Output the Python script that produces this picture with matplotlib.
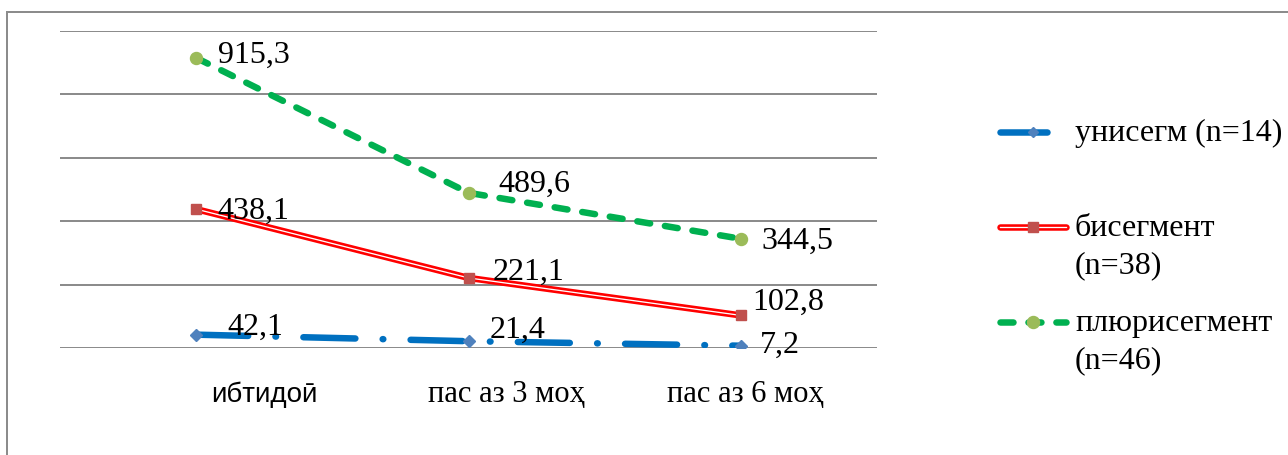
import numpy as np
import matplotlib
matplotlib.use("Agg")
import matplotlib.pyplot as plt
from matplotlib.lines import Line2D
from matplotlib.patches import Rectangle

# data
periods = ["ибтидоӣ", "пас аз 3 моҳ", "пас аз 6 моҳ"]
series_names = ["унисегм (n=14)", "бисегмент\n(n=38)", "плюрисегмент\n(n=46)"]
uni = [42.1, 21.4, 7.2]
bi = [438.1, 221.1, 102.8]
pluri = [915.3, 489.6, 344.5]

serif = ["Liberation Serif", "DejaVu Serif"]
sans = ["Liberation Sans", "DejaVu Sans"]

DPI = 100
PX = 72.0 / DPI  # points per pixel
W, H = 1288, 455

fig = plt.figure(figsize=(W / DPI, H / DPI), dpi=DPI)
ax = fig.add_axes([60 / W, 1 - 348 / H, 817 / W, 317 / H])

x = np.arange(len(periods))
lw = 6.5 * PX

# unisegment: long dash-dot, blue
ax.plot(x, uni, color="#0070C0", lw=lw, linestyle=(0, (8, 4.2, 0.1, 4.2)),
        dash_capstyle="round", solid_capstyle="round",
        marker="D", ms=8 * PX, mfc="#4F81BD", mec="#4F81BD", zorder=3)
# bisegment: red double line
ax.plot(x, bi, color="#FF0000", lw=lw, solid_capstyle="round", zorder=3)
ax.plot(x, bi, color="white", lw=1.3 * PX, zorder=4)
ax.plot(x, bi, linestyle="none", marker="s", ms=10 * PX, mfc="#C0504D",
        mec="#C0504D", zorder=5)
# plurisegment: green dashed
ax.plot(x, pluri, color="#00B050", lw=lw, linestyle=(0, (2, 2.3)),
        dash_capstyle="round", zorder=3)
ax.plot(x, pluri, linestyle="none", marker="o", ms=12 * PX, mfc="#9BBB59",
        mec="#9BBB59", zorder=5)

# value labels (offsets in pixels)
label_offsets = {
    0: [(31, 7), (21, 11), (19, 0)],
    1: [(21, -2), (24, 6), (11, 13)],
    2: [(22, 3), (30, 8), (21, -3)],
}
for k, vals in enumerate([uni, bi, pluri]):
    for i, v in enumerate(vals):
        ax.annotate(f"{v:.1f}".replace(".", ","), (x[i], v),
                    xytext=label_offsets[k][i], textcoords="offset pixels",
                    ha="left", va="center", fontsize=23, family=serif,
                    color="black", zorder=6)

ax.set_xlim(-0.5, 2.5)
ax.set_ylim(0, 1000)
ax.set_yticks(np.arange(0, 1001, 200))
ax.grid(axis="y", color="#8C8C8C", lw=2 * PX)
ax.set_axisbelow(True)
ax.tick_params(left=False, bottom=False, labelleft=False, labelbottom=False)
for s in ax.spines.values():
    s.set_visible(False)

# category labels
cat_dx = [68, 38, 5]
cat_fonts = [(sans, 20), (serif, 22), (serif, 22)]
for i, name in enumerate(periods):
    fam, fs = cat_fonts[i]
    ax.annotate(name, (x[i], 0), xycoords=("data", "axes fraction"),
                xytext=(cat_dx[i], -47), textcoords="offset pixels",
                ha="center", va="center", fontsize=fs, family=fam)

# legend drawn by hand
def fx(px):
    return px / W

def fy(px):
    return 1 - px / H

legend_rows = [132, 227, 322]
handles = [
    dict(x1=1050, kw=dict(color="#0070C0", lw=lw, solid_capstyle="round"),
         mk=dict(marker="D", ms=7 * PX, mfc="#4F81BD", mec="#4F81BD")),
    dict(x1=1069, kw=dict(color="#FF0000", lw=lw, solid_capstyle="round"),
         mk=dict(marker="s", ms=10 * PX, mfc="#C0504D", mec="#C0504D")),
    dict(x1=1069, kw=dict(color="#00B050", lw=lw, linestyle=(0, (2, 2.3)),
                          dash_capstyle="round"),
         mk=dict(marker="o", ms=12 * PX, mfc="#9BBB59", mec="#9BBB59")),
]
for j, (yrow, h) in enumerate(zip(legend_rows, handles)):
    fig.add_artist(Line2D([fx(1000), fx(h["x1"] - 3)], [fy(yrow), fy(yrow)],
                          transform=fig.transFigure, **h["kw"]))
    if j == 1:
        fig.add_artist(Line2D([fx(1000), fx(h["x1"] - 3)], [fy(yrow), fy(yrow)],
                              transform=fig.transFigure, color="white",
                              lw=1.3 * PX))
    fig.add_artist(Line2D([fx(1033)], [fy(yrow)], transform=fig.transFigure,
                          linestyle="none", **h["mk"]))
    for li, line in enumerate(series_names[j].split("\n")):
        fig.text(fx(1075), fy(yrow + 1 + li * 38), line, ha="left",
                 va="center", fontsize=23, family=serif)

# outer frame
fig.add_artist(Rectangle((fx(7), -0.1), 1.2, fy(12) + 0.1,
                         transform=fig.transFigure, fill=False,
                         edgecolor="#8C8C8C", lw=2 * PX))

fig.savefig("out.png", dpi=DPI)
